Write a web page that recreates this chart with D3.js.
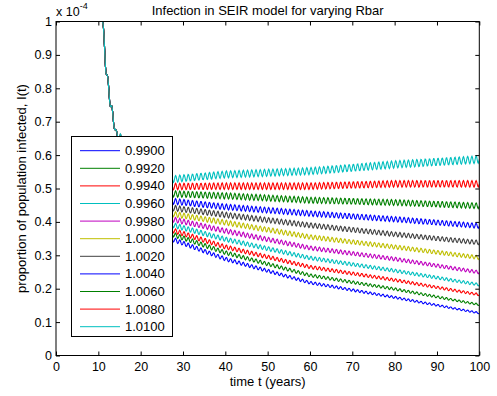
<!DOCTYPE html>
<html>
<head>
<meta charset="utf-8">
<script src="https://cdn.jsdelivr.net/npm/d3@7"></script>
<style>
body { margin: 0; background: #fff; }
svg text { font-family: "Liberation Sans", Arial, Helvetica, sans-serif; fill: #000; }
</style>
</head>
<body>
<svg width="497" height="396"></svg>
<script>
// values are in units of 1e-4
var rbar = ['0.9900', '0.9920', '0.9940', '0.9960', '0.9980', '1.0000', '1.0020', '1.0040', '1.0060', '1.0080', '1.0100'];
var colors = ['#0000ff', '#008000', '#ff0000', '#00bfbf', '#bf00bf', '#bfbf00', '#404040', '#0000ff', '#008000', '#ff0000', '#00bfbf'];

// steep drop shared by all runs
var onsetYears = [10.2, 11.0, 11.8, 12.8, 14.2];
var onsetValues = [1.12, 1.0, 0.861, 0.761, 0.662];

// after the drop, one row per Rbar
var tailYears = [27.5, 40, 60, 80, 100];
var tailValues = [
  [0.348, 0.289, 0.218, 0.174, 0.127],
  [0.363, 0.308, 0.240, 0.199, 0.152],
  [0.375, 0.325, 0.265, 0.226, 0.182],
  [0.391, 0.348, 0.292, 0.254, 0.212],
  [0.408, 0.373, 0.322, 0.289, 0.249],
  [0.424, 0.398, 0.355, 0.325, 0.293],
  [0.442, 0.421, 0.390, 0.363, 0.338],
  [0.462, 0.445, 0.425, 0.408, 0.388],
  [0.484, 0.478, 0.465, 0.458, 0.448],
  [0.506, 0.507, 0.507, 0.514, 0.514],
  [0.528, 0.542, 0.552, 0.572, 0.587]
];

var xTicks = [0, 10, 20, 30, 40, 50, 60, 70, 80, 90, 100];
var yTicks = [0, 0.1, 0.2, 0.3, 0.4, 0.5, 0.6, 0.7, 0.8, 0.9, 1];

var plotL = 56, plotR = 479.3, plotT = 21.5, plotB = 355.5;

var svg = d3.select('svg');

var x = d3.scaleLinear().domain([0, 100]).range([plotL, plotR]);
var y = d3.scaleLinear().domain([0, 1]).range([plotB, plotT]);

// seasonal wiggle (one per year), drawn as a line style on top of the read values
function seasonal(period, base) {
  return function(context) {
    var px, py, started;
    function wob(xx, yy) {
      return yy - 0.019 * (base - yy) * Math.sin(2 * Math.PI * (xx - plotL) / period);
    }
    return {
      areaStart: function() {}, areaEnd: function() {},
      lineStart: function() { started = false; },
      lineEnd: function() {},
      point: function(xx, yy) {
        if (!started) {
          context.moveTo(xx, wob(xx, yy));
          started = true;
        } else {
          var n = Math.max(1, Math.ceil((xx - px) / (period / 8)));
          for (var i = 1; i <= n; i++) {
            var xi = px + (xx - px) * i / n, yi = py + (yy - py) * i / n;
            context.lineTo(xi, wob(xi, yi));
          }
        }
        px = xx; py = yy;
      }
    };
  };
}

svg.append('clipPath').attr('id', 'plotclip')
  .append('rect')
  .attr('x', plotL).attr('y', plotT)
  .attr('width', plotR - plotL).attr('height', plotB - plotT);

var series = rbar.map(function(r, i) {
  var pts = onsetYears.map(function(t, j) { return [t, onsetValues[j]]; });
  tailYears.forEach(function(t, j) { pts.push([t, tailValues[i][j]]); });
  return pts;
});

var line = d3.line()
  .x(function(d) { return x(d[0]); })
  .y(function(d) { return y(d[1]); })
  .curve(seasonal(x(1) - x(0), y(0)));

svg.append('g').attr('clip-path', 'url(#plotclip)')
  .selectAll('path')
  .data(series)
  .enter()
  .append('path')
  .attr('d', line)
  .attr('fill', 'none')
  .attr('stroke', function(d, i) { return colors[i]; })
  .attr('stroke-width', 1.1);

// axes, ticks inward on all four sides
svg.append('g')
  .attr('transform', 'translate(0,' + plotB + ')')
  .call(d3.axisBottom(x).tickValues(xTicks).tickSizeInner(-4).tickSizeOuter(0).tickPadding(7));
svg.append('g')
  .attr('transform', 'translate(0,' + plotT + ')')
  .call(d3.axisTop(x).tickValues(xTicks).tickSizeInner(-4).tickSizeOuter(0).tickFormat(''));
svg.append('g')
  .attr('transform', 'translate(' + plotL + ',0)')
  .call(d3.axisLeft(y).tickValues(yTicks).tickSizeInner(-4).tickSizeOuter(0).tickPadding(4).tickFormat(d3.format('~g')));
svg.append('g')
  .attr('transform', 'translate(' + plotR + ',0)')
  .call(d3.axisRight(y).tickValues(yTicks).tickSizeInner(-4).tickSizeOuter(0).tickFormat(''));

svg.selectAll('.tick text').style('font-size', '12.5px').attr('fill', '#000');
svg.selectAll('.domain').remove();

svg.append('rect')
  .attr('x', plotL).attr('y', plotT)
  .attr('width', plotR - plotL).attr('height', plotB - plotT)
  .attr('fill', 'none').attr('stroke', '#000').attr('stroke-width', 1);

// legend
var legend = svg.append('g');
legend.append('rect')
  .attr('x', 71.5).attr('y', 136.5)
  .attr('width', 101).attr('height', 200)
  .attr('fill', '#fff').attr('stroke', '#000').attr('stroke-width', 1);
var items = legend.selectAll('g.item')
  .data(rbar)
  .enter()
  .append('g')
  .attr('class', 'item')
  .attr('transform', function(d, i) { return 'translate(0,' + (150.7 + i * 17.6) + ')'; });
items.append('line')
  .attr('x1', 80).attr('x2', 120)
  .attr('stroke', function(d, i) { return colors[i]; })
  .attr('stroke-width', 1);
items.append('text')
  .attr('x', 125).attr('dy', '0.35em')
  .style('font-size', '13px')
  .text(function(d) { return d; });

// titles
svg.append('text')
  .attr('x', (plotL + plotR) / 2).attr('y', 15)
  .attr('text-anchor', 'middle')
  .style('font-size', '13px')
  .text('Infection in SEIR model for varying Rbar');

svg.append('text')
  .attr('x', (plotL + plotR) / 2).attr('y', 386)
  .attr('text-anchor', 'middle')
  .style('font-size', '13px')
  .text('time t (years)');

svg.append('text')
  .attr('transform', 'translate(26,' + ((plotT + plotB) / 2) + ')rotate(-90)')
  .attr('text-anchor', 'middle')
  .style('font-size', '13px')
  .text('proportion of population infected, I(t)');

var mult = svg.append('text')
  .attr('x', 56).attr('y', 16)
  .style('font-size', '12.5px');
mult.append('tspan').text('x 10');
mult.append('tspan').attr('dy', -7).style('font-size', '9px').text('-4');
</script>
</body>
</html>
